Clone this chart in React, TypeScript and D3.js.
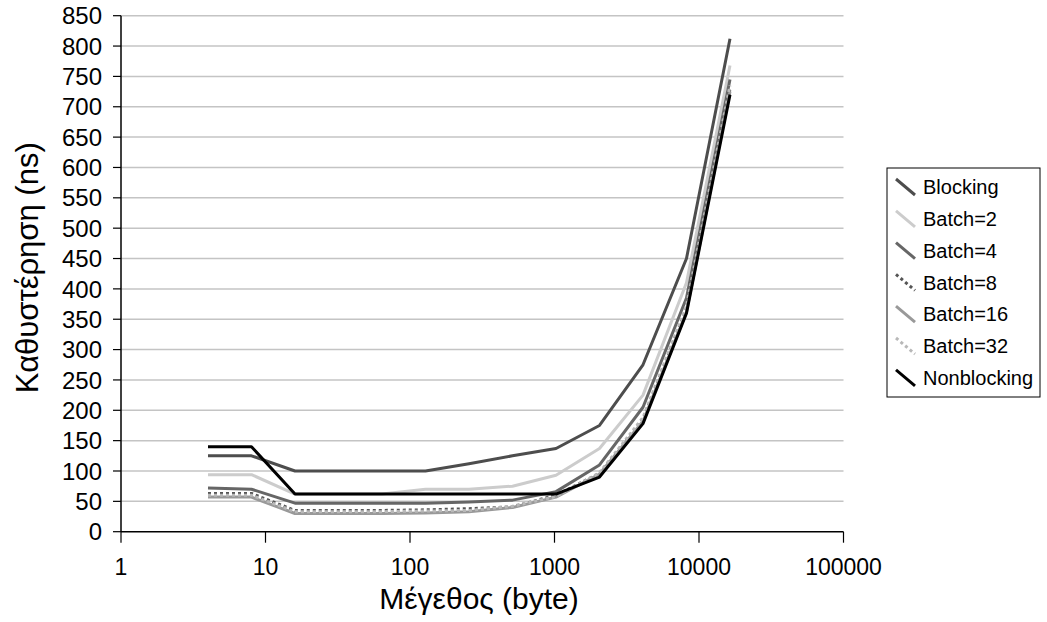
import React from "react";
import * as d3 from "d3";

const sizes = [4, 8, 16, 32, 64, 128, 256, 512, 1024, 2048, 4096, 8192, 16384];
const blocking = [125, 125, 100, 100, 100, 100, 112, 125, 137, 175, 275, 450, 812];
const batch2 = [94, 94, 62, 62, 62, 70, 70, 75, 93, 137, 225, 410, 768];
const batch4 = [72, 70, 47, 47, 47, 47, 49, 52, 66, 110, 205, 385, 745];
const batch8 = [63, 63, 35, 35, 35, 36, 38, 41, 60, 96, 185, 368, 730];
const batch16 = [57, 57, 30, 30, 30, 31, 33, 40, 57, 95, 182, 362, 725];
const batch32 = [60, 60, 33, 33, 33, 34, 35, 42, 58, 97, 188, 372, 735];
const nonblocking = [140, 140, 62, 62, 62, 62, 62, 62, 62, 90, 178, 360, 720];

const seriesNames = ["Blocking", "Batch=2", "Batch=4", "Batch=8", "Batch=16", "Batch=32", "Nonblocking"];
const seriesValues = [blocking, batch2, batch4, batch8, batch16, batch32, nonblocking];
const xTicks = [1, 10, 100, 1000, 10000, 100000];
const yTicks = d3.range(0, 851, 50);

const styles = [
  { color: "#4d4d4d", dash: "", width: 3 },
  { color: "#cccccc", dash: "", width: 3 },
  { color: "#666666", dash: "", width: 3 },
  { color: "#555555", dash: "3 3", width: 3 },
  { color: "#999999", dash: "", width: 3 },
  { color: "#b8b8b8", dash: "3 3", width: 3 },
  { color: "#000000", dash: "", width: 3 },
];

export default function App() {
  const W = 1047, H = 622;
  const left = 121, right = 843.5, top = 15.7, bottom = 531.7;
  const x = d3.scaleLog().domain([1, 100000]).range([left, right]);
  const y = d3.scaleLinear().domain([0, 850]).range([bottom, top]);
  const line = d3.line<[number, number]>().x(d => x(d[0])).y(d => y(d[1]));
  const font = "Arial, 'Liberation Sans', sans-serif";

  return (
    <svg width={W} height={H} style={{ position: "absolute", left: 0, top: 0, background: "#fff" }}>
      {yTicks.filter(t => t > 0).map(t => (
        <line key={"g" + t} x1={left} x2={right} y1={y(t)} y2={y(t)} stroke="#c4c4c4" strokeWidth={1.5} />
      ))}
      {seriesValues.map((vals, i) => (
        <path key={seriesNames[i]} d={line(sizes.map((s, j) => [s, vals[j]]) as [number, number][]) || ""}
          fill="none" stroke={styles[i].color} strokeWidth={styles[i].width}
          strokeDasharray={styles[i].dash} strokeLinejoin="round" />
      ))}
      <line x1={left} x2={left} y1={top} y2={bottom} stroke="#000" strokeWidth={1.5} />
      <line x1={left} x2={right} y1={bottom} y2={bottom} stroke="#000" strokeWidth={1.5} />
      {yTicks.map(t => (
        <g key={"y" + t}>
          <line x1={left - 8} x2={left} y1={y(t)} y2={y(t)} stroke="#000" strokeWidth={1.2} />
          <text x={left - 19} y={y(t)} dy="0.36em" textAnchor="end" fontSize={24} fontFamily={font}>{t}</text>
        </g>
      ))}
      {xTicks.map(t => (
        <g key={"x" + t}>
          <line x1={x(t)} x2={x(t)} y1={bottom} y2={bottom + 11} stroke="#000" strokeWidth={1.2} />
          <text x={x(t)} y={575} textAnchor="middle" fontSize={23} fontFamily={font}>{t}</text>
        </g>
      ))}
      <text x={479} y={609} textAnchor="middle" fontSize={30} fontFamily={font}>Μέγεθος (byte)</text>
      <text transform={`translate(38, ${(top + bottom) / 2 - 6}) rotate(-90)`} textAnchor="middle" fontSize={31} fontFamily={font}>Καθυστέρηση (ns)</text>
      <rect x={887} y={168} width={153} height={229} fill="#fff" stroke="#000" strokeWidth={1} />
      {seriesNames.map((n, i) => {
        const cy = 187 + i * 31.8;
        return (
          <g key={"l" + n}>
            <line x1={896} x2={915} y1={cy - 8} y2={cy + 8} stroke={styles[i].color} strokeWidth={3}
              strokeDasharray={styles[i].dash} />
            <text x={923} y={cy} dy="0.36em" fontSize={20} fontFamily={font}>{n}</text>
          </g>
        );
      })}
    </svg>
  );
}
